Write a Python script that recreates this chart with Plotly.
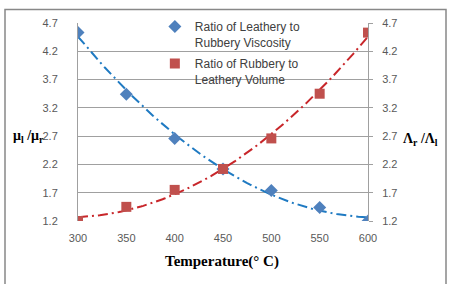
import numpy as np
import plotly.graph_objects as go

temperature = [300, 350, 400, 450, 500, 550, 600]
viscosity_ratio = [4.53, 3.44, 2.66, 2.12, 1.74, 1.44, 1.20]
volume_ratio = [1.20, 1.45, 1.75, 2.12, 2.66, 3.45, 4.53]
y_ticks = [1.2, 1.7, 2.2, 2.7, 3.2, 3.7, 4.2, 4.7]
x_ticks = [300, 350, 400, 450, 500, 550, 600]

# polynomial (order 2) trendlines fitted to the data, as in the original spreadsheet chart
xs = np.linspace(300, 600, 121)
fit_b = np.polyval(np.polyfit(temperature, viscosity_ratio, 2), xs)
fit_r = np.polyval(np.polyfit(temperature, volume_ratio, 2), xs)

DASH = "10px,4px,2px,4px"

fig = go.Figure()
fig.add_trace(go.Scatter(x=xs, y=fit_b, mode="lines", showlegend=False,
                         line=dict(color="#1F7AC2", width=2, dash=DASH), hoverinfo="skip"))
fig.add_trace(go.Scatter(x=xs, y=fit_r, mode="lines", showlegend=False,
                         line=dict(color="#C8262A", width=2, dash=DASH), hoverinfo="skip",
                         yaxis="y2"))
fig.add_trace(go.Scatter(x=temperature, y=viscosity_ratio, mode="markers",
                         name="Ratio of Leathery to<br>Rubbery Viscosity", legendgroup="a",
                         marker=dict(symbol="diamond", size=10, color="#4F81BD")))
fig.add_trace(go.Scatter(x=temperature, y=volume_ratio, mode="markers",
                         name="Ratio of Rubbery to<br>Leathery Volume", legendgroup="b",
                         marker=dict(symbol="square", size=10, color="#C0504D"),
                         yaxis="y2"))

tickfont = dict(family="Liberation Sans", size=11, color="#595959")
fig.update_layout(
    width=452, height=284,
    margin=dict(l=78, r=84, t=17, b=63),
    paper_bgcolor="white", plot_bgcolor="white",
    xaxis=dict(range=[300, 600], tickvals=x_ticks, showgrid=False, zeroline=False,
               showline=False, ticks="", tickfont=tickfont, ticklabelstandoff=9),
    yaxis=dict(range=[1.2, 4.7], tickvals=y_ticks, ticktext=[f"{v:.1f}" for v in y_ticks],
               showgrid=True, gridcolor="#A0A0A0", gridwidth=1, zeroline=False,
               showline=True, linecolor="#A0A0A0", linewidth=1, ticks="",
               tickfont=tickfont, ticklabelstandoff=17),
    yaxis2=dict(range=[1.2, 4.7], tickvals=y_ticks, ticktext=[f"{v:.1f}" for v in y_ticks],
                overlaying="y", side="right", showgrid=False, zeroline=False,
                showline=True, linecolor="#A0A0A0", linewidth=1, ticks="outside",
                ticklen=4, tickcolor="#A0A0A0", tickfont=tickfont, ticklabelstandoff=7),
    legend=dict(x=0.265, y=1.055, xanchor="left", yanchor="top", bgcolor="rgba(0,0,0,0)",
                font=dict(family="Liberation Sans", size=12, color="#404040"),
                itemwidth=30, tracegroupgap=3, valign="top", traceorder="grouped"),
    showlegend=True,
)

titlefont = dict(family="Liberation Serif", size=14, color="black")
fig.add_annotation(text="<b>μ<sub>l</sub> /μ<sub>r</sub></b>", xref="paper", yref="paper",
                   x=(28 - 78) / 290, y=(221 - 134) / 204, showarrow=False, font=titlefont,
                   xanchor="center", yanchor="middle")
fig.add_annotation(text="<b>Λ<sub>r</sub> /Λ<sub>l</sub></b>", xref="paper", yref="paper",
                   x=(420 - 78) / 290, y=(221 - 137) / 204, showarrow=False, font=titlefont,
                   xanchor="center", yanchor="middle")
fig.add_annotation(text="<b>Temperature(° C)</b>", xref="paper", yref="paper",
                   x=(222 - 78) / 290, y=(221 - 263) / 204, showarrow=False,
                   font=dict(family="Liberation Serif", size=15, color="black"),
                   xanchor="center", yanchor="middle")

fig.add_shape(type="rect", xref="paper", yref="paper",
              x0=(5 - 78) / 290, x1=(446 - 78) / 290, y0=-0.4, y1=1 + 14 / 204,
              line=dict(color="#888888", width=1.5), layer="below")

fig.write_html("out.html")
